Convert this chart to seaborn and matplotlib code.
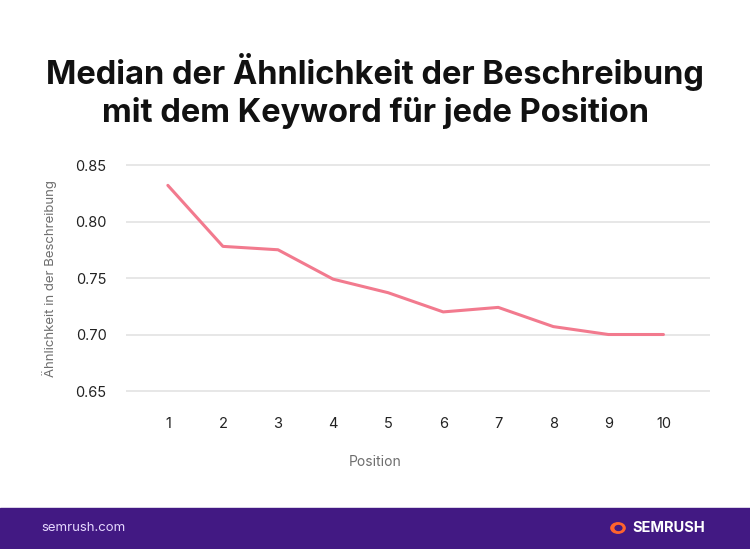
import matplotlib
matplotlib.use("Agg")
import matplotlib.pyplot as plt
import matplotlib.patches as mpatches
import seaborn as sns
import pandas as pd

positions = [1, 2, 3, 4, 5, 6, 7, 8, 9, 10]
similarity = [0.832, 0.778, 0.775, 0.749, 0.737, 0.720, 0.724, 0.707, 0.700, 0.700]
y_ticks = [0.65, 0.70, 0.75, 0.80, 0.85]
y_tick_labels = ["0.65", "0.70", "0.75", "0.80", "0.85"]

title = "Median der Ähnlichkeit der Beschreibung\nmit dem Keyword für jede Position"
x_label = "Position"
y_label = "Ähnlichkeit in der Beschreibung"

sns.set_theme(style="white")
plt.rcParams['font.family'] = ['Inter', 'DejaVu Sans']

df = pd.DataFrame({"Position": positions, "Similarity": similarity})

fig = plt.figure(figsize=(7.5, 5.49), dpi=100)
ax = fig.add_axes([0.168, 0.2775, 0.779, 0.4322])
sns.lineplot(data=df, x="Position", y="Similarity", ax=ax, color="#f27a8e", linewidth=2.2)

ax.set_xlim(0.24, 10.85)
ax.set_ylim(0.645, 0.855)
ax.set_yticks(y_ticks)
ax.set_yticklabels(y_tick_labels)
ax.set_xticks(positions)
ax.set_xticklabels([str(p) for p in positions])
ax.yaxis.grid(True, color="#e3e3e3", linewidth=1.2)
ax.xaxis.grid(False)
for s in ax.spines.values():
    s.set_visible(False)
ax.tick_params(axis="both", length=0, labelsize=10.5, colors="#222222")
ax.tick_params(axis="y", pad=14)
ax.tick_params(axis="x", pad=15)
ax.set_xlabel(x_label, fontsize=10, color="#6e6e6e")
ax.xaxis.set_label_coords((375 - 126) / (710 - 126), -0.247)
ax.set_ylabel(y_label, fontsize=9.5, color="#6e6e6e", labelpad=13)

fig.text(0.5, 0.8345, title, ha="center", va="center", fontsize=23.5,
         fontweight="bold", color="#111111", linespacing=1.22)

# footer band
fig.patches.append(mpatches.Rectangle((0, 0), 1, 41 / 549, transform=fig.transFigure,
                                      color="#421983", zorder=0))
fig.text(41 / 750, 1 - 528 / 549, "semrush.com", ha="left", va="center",
         fontsize=9.5, color="#e6d9ff")
fig.text(632 / 750, 1 - 528 / 549, "SEMRUSH", ha="left", va="center",
         fontsize=10.5, fontweight="bold", color="#ffffff")
fig.patches.append(mpatches.Circle((618 / 750, 1 - 528 / 549), 0.0095,
                                   transform=fig.transFigure, color="#ff642d", zorder=2))
fig.patches.append(mpatches.Circle((618.5 / 750, 1 - 528 / 549), 0.0045,
                                   transform=fig.transFigure, color="#421983", zorder=3))

fig.savefig("out.png", dpi=100)
